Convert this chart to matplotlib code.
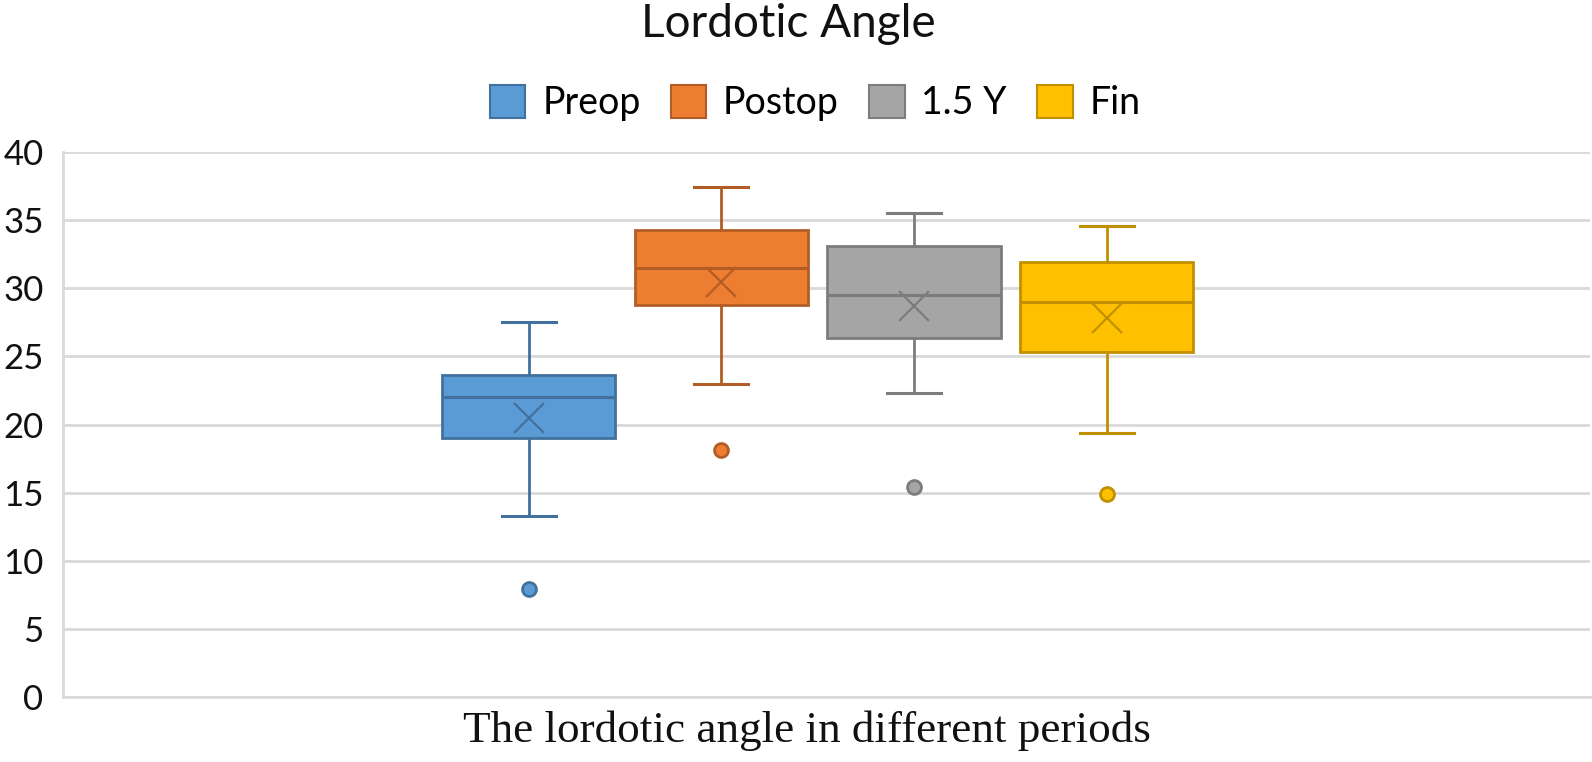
import matplotlib
matplotlib.use("Agg")
import matplotlib.pyplot as plt
from matplotlib.patches import Patch

# ---- data ----
periods = ["Preop", "Postop", "1.5 Y", "Fin"]
whisker_low = [13.25, 23.0, 22.3, 19.4]
q1 = [19.0, 28.8, 26.35, 25.3]
median = [22.0, 31.5, 29.5, 29.0]
q3 = [23.6, 34.25, 33.1, 31.95]
whisker_high = [27.5, 37.4, 35.5, 34.55]
mean = [20.5, 30.45, 28.7, 27.85]
outliers = [[7.9], [18.1], [15.4], [14.9]]
yticks = [0, 5, 10, 15, 20, 25, 30, 35, 40]

fill_colors = ["#5B9BD5", "#ED7D31", "#A5A5A5", "#FFC000"]
edge_colors = ["#41719C", "#B25D25", "#7C7C7C", "#C09000"]

fig = plt.figure(figsize=(15.92, 7.62), dpi=100)
ax = fig.add_axes([0.0396, 0.0853, 0.9594, 0.7152])

positions = [1, 2, 3, 4]
for i in range(len(periods)):
    stats = [dict(med=median[i], q1=q1[i], q3=q3[i], whislo=whisker_low[i],
                  whishi=whisker_high[i], mean=mean[i], fliers=outliers[i],
                  label=periods[i])]
    ec = edge_colors[i]
    ax.bxp(stats, positions=[positions[i]], widths=0.9, patch_artist=True,
           showmeans=True, capwidths=0.28,
           boxprops=dict(facecolor=fill_colors[i], edgecolor=ec, linewidth=2),
           medianprops=dict(color=ec, linewidth=2.2),
           whiskerprops=dict(color=ec, linewidth=2),
           capprops=dict(color=ec, linewidth=2.2),
           meanprops=dict(marker="x", markeredgecolor=ec, markersize=22,
                          markeredgewidth=1.6),
           flierprops=dict(marker="o", markerfacecolor=fill_colors[i],
                           markeredgecolor=ec, markersize=10, markeredgewidth=2),
           zorder=3)

ax.set_xlim(-1.416, 6.51)
ax.set_ylim(0, 40)
ax.set_yticks(yticks)
ax.set_xticks([])
ax.yaxis.grid(True, color="#D9D9D9", linewidth=2)
ax.set_axisbelow(True)
for s in ["top", "right"]:
    ax.spines[s].set_visible(False)
ax.spines["left"].set_color("#D9D9D9")
ax.spines["left"].set_linewidth(2)
ax.spines["bottom"].set_color("#D9D9D9")
ax.spines["bottom"].set_linewidth(2)
ax.tick_params(axis="y", length=0, pad=14, labelsize=25)
for lab in ax.get_yticklabels():
    lab.set_fontfamily("Lato")
    lab.set_color("#111111")

fig.text(0.495, 0.969, "Lordotic Angle", ha="center", va="center",
         fontsize=33, family="Lato", color="#111111")

handles = [Patch(facecolor=fill_colors[i], edgecolor=edge_colors[i], linewidth=1.5)
           for i in range(len(periods))]
leg = fig.legend(handles, periods, loc="center", bbox_to_anchor=(0.512, 0.865),
                 ncol=4, frameon=False, handlelength=0.95,
                 handleheight=1.0, handletextpad=0.45, columnspacing=0.8,
                 prop=dict(family="Lato", size=27))

fig.text(0.507, 0.041, "The lordotic angle in different periods", ha="center",
         va="center", fontsize=32.5, family="Liberation Serif", color="#111111")

fig.savefig("out.png", dpi=100)
